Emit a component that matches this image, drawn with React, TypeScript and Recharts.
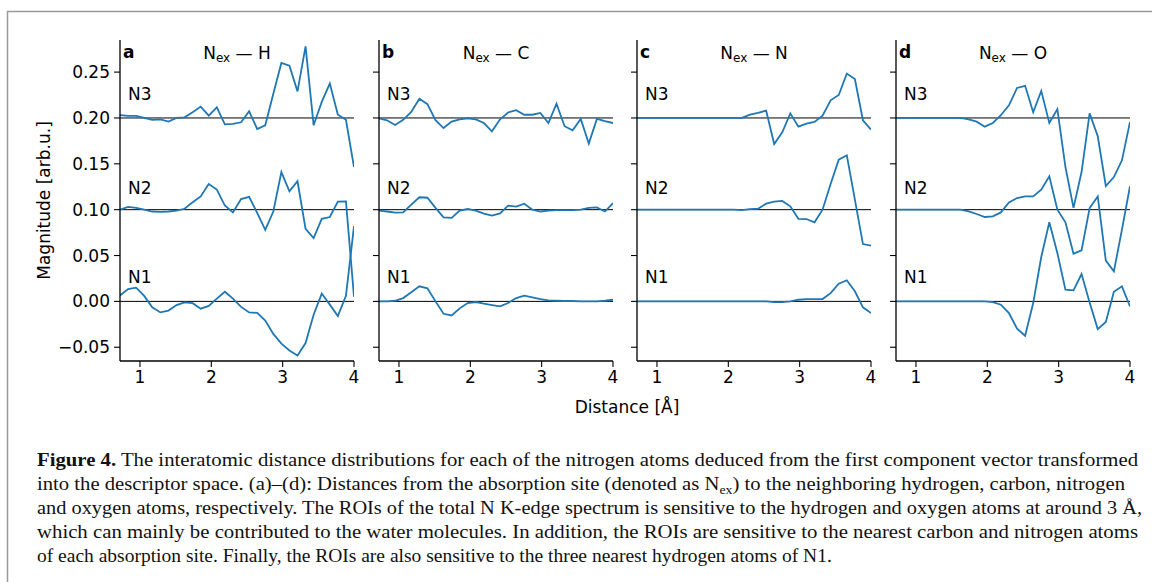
import React from 'react';
import { LineChart, Line, XAxis, YAxis, ReferenceLine } from 'recharts';

// Distance grid [Å]
const distances = [0.72, 0.833, 0.946, 1.059, 1.172, 1.286, 1.399, 1.512, 1.625, 1.738, 1.851, 1.964, 2.077, 2.19, 2.303, 2.417, 2.53, 2.643, 2.756, 2.869, 2.982, 3.095, 3.208, 3.321, 3.434, 3.548, 3.661, 3.774, 3.887, 4.0];

// Panel a: N_ex — H  (N2 offset +0.1, N3 offset +0.2 as plotted)
const hN1 = [0.0065, 0.0135, 0.015, 0.006, -0.0065, -0.012, -0.01, -0.004, -0.001, -0.002, -0.008, -0.005, 0.003, 0.0105, 0.003, -0.006, -0.012, -0.0125, -0.021, -0.0355, -0.046, -0.0535, -0.059, -0.0455, -0.0145, 0.0085, -0.0035, -0.016, 0.006, 0.082];
const hN2 = [0.1, 0.103, 0.102, 0.1, 0.098, 0.0975, 0.098, 0.099, 0.101, 0.108, 0.1145, 0.128, 0.122, 0.1045, 0.097, 0.1115, 0.114, 0.0965, 0.078, 0.098, 0.141, 0.12, 0.131, 0.079, 0.069, 0.09, 0.092, 0.1087, 0.109, 0.005];
const hN3 = [0.203, 0.2022, 0.2022, 0.2, 0.198, 0.1985, 0.196, 0.2, 0.2007, 0.2062, 0.2124, 0.2025, 0.2116, 0.193, 0.1935, 0.1953, 0.2073, 0.188, 0.192, 0.2265, 0.26, 0.257, 0.229, 0.278, 0.192, 0.2175, 0.2375, 0.2036, 0.198, 0.1465];

// Panel b: N_ex — C
const cN1 = [0, 0, 0.0007, 0.0036, 0.01, 0.0164, 0.0142, 0, -0.0135, -0.0153, -0.0076, -0.0018, -0.0007, -0.0025, -0.004, -0.0055, -0.0018, 0.0036, 0.0062, 0.0044, 0.0025, 0.0011, 0.0007, 0.0004, 0.0004, 0, 0, 0, 0.0007, 0.0018];
const cN2 = [0.099, 0.098, 0.0967, 0.097, 0.1055, 0.1135, 0.113, 0.102, 0.0916, 0.091, 0.099, 0.1007, 0.099, 0.0956, 0.0935, 0.096, 0.1044, 0.1033, 0.1065, 0.1, 0.098, 0.099, 0.0996, 0.0996, 0.0996, 0.1, 0.102, 0.1025, 0.098, 0.107];
const cN3 = [0.1995, 0.1975, 0.1924, 0.198, 0.2065, 0.221, 0.215, 0.1975, 0.189, 0.196, 0.1985, 0.1995, 0.1985, 0.1945, 0.1855, 0.1985, 0.206, 0.2085, 0.2035, 0.2035, 0.2055, 0.1945, 0.2155, 0.191, 0.1865, 0.199, 0.172, 0.199, 0.1965, 0.1945];

// Panel c: N_ex — N
const nN1 = [0, 0, 0, 0, 0, 0, 0, 0, 0, 0, 0, 0, 0, 0, 0, 0, 0, -0.0007, -0.0007, 0, 0.0018, 0.0025, 0.0025, 0.0025, 0.009, 0.0193, 0.023, 0.011, -0.0065, -0.0127];
const nN2 = [0.1, 0.1, 0.1, 0.1, 0.1, 0.1, 0.1, 0.1, 0.1, 0.1, 0.1, 0.1, 0.1, 0.0995, 0.1007, 0.101, 0.1065, 0.1087, 0.1095, 0.1036, 0.09, 0.0898, 0.0862, 0.1, 0.128, 0.1545, 0.1593, 0.111, 0.0625, 0.0607];
const nN3 = [0.2, 0.2, 0.2, 0.2, 0.2, 0.2, 0.2, 0.2, 0.2, 0.2, 0.2, 0.2, 0.2, 0.2, 0.2036, 0.2055, 0.208, 0.1716, 0.1844, 0.205, 0.1905, 0.1938, 0.1956, 0.2025, 0.2193, 0.225, 0.2484, 0.2425, 0.1975, 0.1873];

// Panel d: N_ex — O
const oN1 = [0, 0, 0, 0, 0, 0, 0, 0, 0, 0, 0, 0, -0.0007, -0.0036, -0.0127, -0.0298, -0.0375, -0.0018, 0.0484, 0.0862, 0.0527, 0.0127, 0.012, 0.0298, -0.0011, -0.0302, -0.0225, 0.0105, 0.0164, -0.0055];
const oN2 = [0.1, 0.1, 0.1, 0.1, 0.1, 0.1, 0.1, 0.1, 0.1, 0.0982, 0.0953, 0.092, 0.0927, 0.097, 0.108, 0.1127, 0.1145, 0.1145, 0.1218, 0.1364, 0.1, 0.0862, 0.052, 0.0556, 0.1018, 0.1145, 0.0444, 0.0327, 0.0782, 0.1255];
const oN3 = [0.2, 0.2, 0.2, 0.2, 0.2, 0.2, 0.2, 0.2, 0.2, 0.1985, 0.196, 0.1905, 0.1945, 0.203, 0.2138, 0.2327, 0.235, 0.2062, 0.2295, 0.1945, 0.2095, 0.1465, 0.102, 0.141, 0.205, 0.18, 0.1258, 0.1356, 0.1538, 0.1956];

const panelLetters = ['a', 'b', 'c', 'd'];
const panelPartners = ['H', 'C', 'N', 'O'];
const seriesLabels = ['N3', 'N2', 'N1'];
const xTicks = [1, 2, 3, 4];
const yTicks = [-0.05, 0, 0.05, 0.1, 0.15, 0.2, 0.25];
const baselines = [0, 0.1, 0.2];

const panelSeries = [
  [hN1, hN2, hN3],
  [cN1, cN2, cN3],
  [nN1, nN2, nN3],
  [oN1, oN2, oN3],
];

const captionLines = [
  'The interatomic distance distributions for each of the nitrogen atoms deduced from the first component vector transformed',
  'into the descriptor space. (a)–(d): Distances from the absorption site (denoted as N',
  'and oxygen atoms, respectively. The ROIs of the total N K-edge spectrum is sensitive to the hydrogen and oxygen atoms at around 3 Å,',
  'which can mainly be contributed to the water molecules. In addition, the ROIs are sensitive to the nearest carbon and nitrogen atoms',
  'of each absorption site. Finally, the ROIs are also sensitive to the three nearest hydrogen atoms of N1.',
];

const FONT = '"DejaVu Sans", sans-serif';
const BLUE = '#1f77b4';
const PLOT_TOP = 40;
const PLOT_H = 321;
const PLOT_W = 234;
const panelLefts = [120, 379, 637, 896];
const Y_DOMAIN: [number, number] = [-0.065, 0.285];
const X_DOMAIN: [number, number] = [0.72, 4];

const fmtY = (v: number) => (v < 0 ? '\u2212' + Math.abs(v).toFixed(2) : v.toFixed(2));

function Panel({ idx }: { idx: number }) {
  const [s1, s2, s3] = panelSeries[idx];
  const data = distances.map((x, i) => ({ x, n1: s1[i], n2: s2[i], n3: s3[i] }));
  const showLabels = idx === 0;
  const yW = showLabels ? 80 : 10;
  const mTop = 5;
  const xH = 40;
  const width = yW + PLOT_W + 5;
  const height = mTop + PLOT_H + xH;
  return (
    <div style={{ position: 'absolute', left: panelLefts[idx] - yW, top: PLOT_TOP - mTop }}>
      <LineChart width={width} height={height} data={data} margin={{ top: mTop, right: 5, bottom: 0, left: 0 }}>
        <XAxis
          xAxisId="b"
          dataKey="x"
          type="number"
          domain={X_DOMAIN}
          ticks={xTicks}
          allowDataOverflow
          height={xH}
          tickSize={6}
          tickMargin={4}
          stroke="#000"
          tick={{ fill: '#000', fontSize: 17, fontFamily: FONT }}
          axisLine={{ stroke: '#000', strokeWidth: 1.3 }}
          tickLine={{ stroke: '#000', strokeWidth: 1.1 }}
        />
        <XAxis xAxisId="t" orientation="top" dataKey="x" type="number" domain={X_DOMAIN} allowDataOverflow height={0} tick={false} tickLine={false} axisLine={{ stroke: '#000', strokeWidth: 1.3 }} />
        <YAxis
          yAxisId="l"
          type="number"
          domain={Y_DOMAIN}
          ticks={yTicks}
          allowDataOverflow
          width={yW}
          tickSize={6}
          tickMargin={4}
          tickFormatter={showLabels ? fmtY : () => ''}
          tick={{ fill: '#000', fontSize: 17, fontFamily: FONT }}
          axisLine={{ stroke: '#000', strokeWidth: 1.3 }}
          tickLine={{ stroke: '#000', strokeWidth: 1.1 }}
        />
        <YAxis yAxisId="r" orientation="right" type="number" domain={Y_DOMAIN} allowDataOverflow width={0} tick={false} tickLine={false} axisLine={{ stroke: '#000', strokeWidth: 1.3 }} />
        {baselines.map((b) => (
          <ReferenceLine key={b} xAxisId="b" yAxisId="l" y={b} stroke="#000" strokeWidth={1} />
        ))}
        {['n1', 'n2', 'n3'].map((k) => (
          <Line key={k} xAxisId="b" yAxisId="l" dataKey={k} type="linear" stroke={BLUE} strokeWidth={1.8} dot={false} isAnimationActive={false} />
        ))}
      </LineChart>
    </div>
  );
}

export default function App() {
  const labelYs = [93.5, 187.5, 277];
  return (
    <div style={{ position: 'absolute', left: 0, top: 0, width: 1152, height: 582, background: '#fff', overflow: 'hidden' }}>
      {panelLetters.map((_, i) => (
        <Panel key={i} idx={i} />
      ))}
      <svg width={1152} height={582} style={{ position: 'absolute', left: 0, top: 0, pointerEvents: 'none' }}>
        <line x1={7} y1={11.5} x2={1152} y2={11.5} stroke="#9a9a9a" strokeWidth={1.5} />
        <line x1={7.5} y1={11} x2={7.5} y2={582} stroke="#9a9a9a" strokeWidth={1.5} />
        {panelLetters.map((l, i) => {
          const left = panelLefts[i];
          return (
            <g key={l} fontFamily={FONT} fill="#000">
              <text x={left + 3} y={58} fontSize={17} fontWeight="bold">{l}</text>
              <text x={left + PLOT_W / 2} y={59} fontSize={17} textAnchor="middle">
                N<tspan fontSize={12} dy={3}>ex</tspan><tspan dy={-3}>{' \u2014 ' + panelPartners[i]}</tspan>
              </text>
              {seriesLabels.map((s, j) => (
                <text key={s} x={left + 8} y={labelYs[j]} fontSize={17} dominantBaseline="central">{s}</text>
              ))}
            </g>
          );
        })}
        <text x={44} y={200.5} fontSize={17} fontFamily={FONT} textAnchor="middle" dominantBaseline="central" transform="rotate(-90 44 200.5)">Magnitude [arb.u.]</text>
        <text x={627} y={413} fontSize={17} fontFamily={FONT} textAnchor="middle">Distance [Å]</text>
        <g fontFamily='"Liberation Serif", serif' fontSize={19.5} fill="#111">
          <text x={37} y={466} textLength={1101} lengthAdjust="spacingAndGlyphs">
            <tspan fontWeight="bold">Figure 4.</tspan> {captionLines[0]}
          </text>
          <text x={37} y={490} textLength={1088} lengthAdjust="spacingAndGlyphs">
            {captionLines[1]}<tspan fontSize={13} dy={4}>ex</tspan><tspan dy={-4}>) to the neighboring hydrogen, carbon, nitrogen</tspan>
          </text>
          <text x={37} y={514} textLength={1105} lengthAdjust="spacingAndGlyphs">{captionLines[2]}</text>
          <text x={37} y={538} textLength={1101} lengthAdjust="spacingAndGlyphs">{captionLines[3]}</text>
          <text x={37} y={562}>{captionLines[4]}</text>
        </g>
      </svg>
    </div>
  );
}
